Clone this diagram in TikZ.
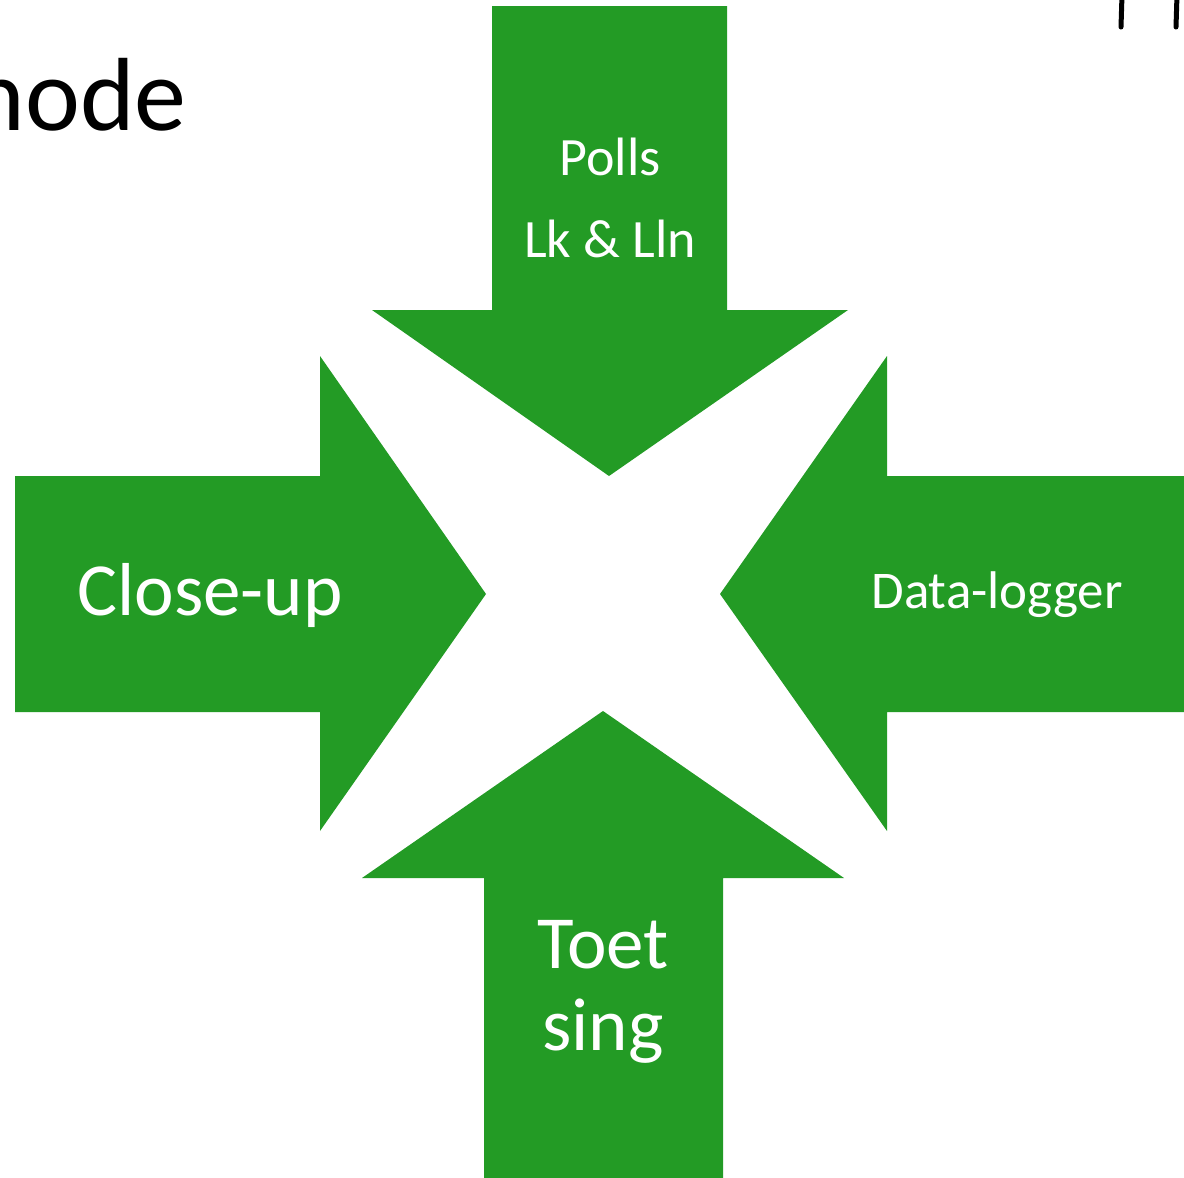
\documentclass[tikz,border=0pt]{standalone}
\usepackage{fontspec}
\setmainfont{Carlito}
\definecolor{arrowgreen}{RGB}{35,155,37}
\tikzset{
  bigarrow/.style={fill=arrowgreen, draw=none},
  lbl/.style={text=white, align=center, inner sep=0pt},
}
\begin{document}
\begin{tikzpicture}[x=1pt,y=-1pt]
\useasboundingbox (0,0) rectangle (1184,1178);
\clip (0,0) rectangle (1184,1178);

% four block arrows pointing to the centre
\fill[bigarrow] (492,6) -- (727,6) -- (727,310) -- (848,310) -- (609,476)
  -- (372,310) -- (492,310) -- cycle;
\fill[bigarrow] (15,476) -- (320,476) -- (320,356) -- (486,594) -- (320,831)
  -- (320,712) -- (15,712) -- cycle;
\fill[bigarrow] (1184,476) -- (887,476) -- (887,356) -- (720,594) -- (887,831)
  -- (887,712) -- (1184,712) -- cycle;
\fill[bigarrow] (484,1178) -- (723,1178) -- (723,878) -- (844,878) -- (603,711)
  -- (362,878) -- (484,878) -- cycle;

% labels
\node[lbl, font=\fontsize{54}{82}\selectfont, anchor=base] (polls) at (610,175) {Polls};
\node[lbl, font=\fontsize{54}{82}\selectfont, anchor=base] (lk) at (610,257) {Lk \& Lln};
\node[lbl, font=\fontsize{75}{82}\selectfont, anchor=base] (close) at (210,615) {Close-up};
\node[lbl, font=\fontsize{53}{82}\selectfont, anchor=base] (data) at (997,608) {Data-logger};
\node[lbl, font=\fontsize{75}{82}\selectfont, anchor=base] (toet) at (603,968) {Toet};
\node[lbl, font=\fontsize{75}{82}\selectfont, anchor=base] (sing) at (603,1050) {sing};

% heading fragments at the edges
\node[anchor=base east, inner sep=0pt, font=\fontsize{104}{110}\selectfont] (title) at (187,130) {node};
\draw[line width=5, line cap=round] (1122,-5) -- (1121,27);
\draw[line width=5, line cap=round] (1177,-5) -- (1176,27);
\end{tikzpicture}
\end{document}
